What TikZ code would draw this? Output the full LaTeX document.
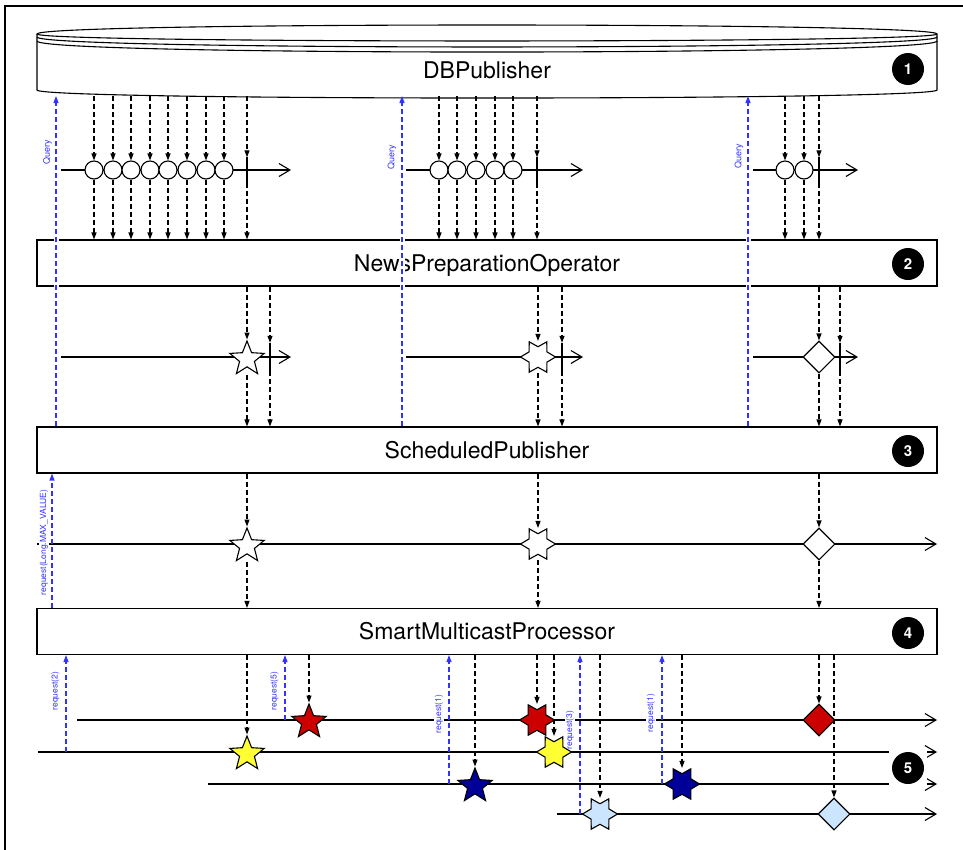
\documentclass[tikz,border=0pt]{standalone}
\usepackage{fontspec}
\setmainfont{TeX Gyre Heros}
\usepackage{tikz}
\usetikzlibrary{arrows.meta}
\usetikzlibrary{shapes.geometric}
\usetikzlibrary{positioning}

\definecolor{querycol}{RGB}{51,51,255}
\definecolor{redev}{RGB}{204,0,0}
\definecolor{yellowev}{RGB}{255,255,51}
\definecolor{navyev}{RGB}{0,0,153}
\definecolor{skyev}{RGB}{204,229,255}

\tikzset{
  stage/.style={draw, line width=1.1pt, fill=white, minimum width=900pt,
    minimum height=46pt, inner sep=0pt, text height=16.5pt, text depth=0pt,
    font=\fontsize{23}{27}\selectfont},
  title/.style={inner sep=0pt, text height=16.5pt, text depth=0pt,
    font=\fontsize{23}{27}\selectfont},
  badge/.style={circle, fill=black, text=white, minimum size=32pt, inner sep=0pt,
    text height=10.8pt, text depth=0pt, font=\fontsize{15}{18}\selectfont\bfseries},
  timeline/.style={line width=1.1pt, -{Straight Barb[length=11pt,width=13pt]}},
  flow/.style={line width=1.1pt, dash pattern=on 5pt off 3pt,
    -{Triangle[length=7pt,width=5pt]}},
  query/.style={querycol, line width=1.2pt, dash pattern=on 5pt off 3pt,
    -{Triangle[length=7pt,width=5pt]}},
  halo/.style={white, line width=5pt, shorten <=-2pt, shorten >=-2pt},
  qlabel/.style={querycol, rotate=90, inner sep=1pt, font=\fontsize{9}{11}\selectfont},
  rlabel/.style={qlabel, fill=white, font=\fontsize{8.5}{10}\selectfont},
  item/.style={circle, draw, line width=1.1pt, fill=white, minimum size=18pt, inner sep=0pt},
  done/.style={inner sep=0pt, minimum width=0pt, minimum height=25pt},
  star5/.style={star, star points=5, star point ratio=2.3, draw, line width=1.1pt,
    fill=white, minimum size=36pt, inner sep=0pt},
  star6/.style={star, star points=6, star point ratio=1.7, shape border rotate=30,
    draw, line width=1.1pt, fill=white, minimum size=35pt, inner sep=0pt},
  gem/.style={diamond, draw, line width=1.1pt, fill=white, minimum size=32pt, inner sep=0pt},
}

% dashed hand-over from #1 through every node of #2 down to #3
\newcommand{\relay}[3]{%
  \foreach \n in {#2} {\draw[flow] (\n |- #1) -- (\n); \draw[flow] (\n) -- (\n |- #3);}}

\begin{document}
\begin{tikzpicture}[x=1pt, y=-1pt]
  \useasboundingbox (0,0) rectangle (963,849);
  \draw[line width=2.5pt] (5,860) -- (5,6) -- (970,6);

  % DBPublisher store
  \draw[line width=1.1pt, fill=white] (37,34) .. controls (37,22) and (937,22) .. (937,34)
    -- (937,90) .. controls (937,100.7) and (37,100.7) .. (37,90) -- cycle;
  \draw[line width=1.1pt] (37,34) .. controls (37,43.3) and (937,43.3) .. (937,34);
  \draw[line width=1.1pt] (37,37) .. controls (37,50.3) and (937,50.3) .. (937,37);
  \draw[line width=1.1pt] (37,41) .. controls (37,55.7) and (937,55.7) .. (937,41);
  \node[title] (db) at (487,70) {DBPublisher};
  \coordinate (dbs) at (487,96);
  \node[badge] (n1) at (908,69) {1};

  % Operators
  \node[stage] (np) at (487,263) {NewsPreparationOperator};
  \node[stage] (sp) at (487,450) {ScheduledPublisher};
  \node[stage] (sm) at (487,631.5) {SmartMulticastProcessor};
  \node[badge] (n2) at (908,264) {2};
  \node[badge] (n3) at (908,451) {3};
  \node[badge] (n4) at (908,633) {4};

  % Queries
  \coordinate (qa) at (56,170);
  \coordinate (qb) at (402,170);
  \coordinate (qc) at (748,170);
  \draw[halo] (qa |- np.north) -- (qa |- np.south);
  \draw[halo] (qb |- np.north) -- (qb |- np.south);
  \draw[halo] (qc |- np.north) -- (qc |- np.south);
  \draw[query] (qa |- sp.north) -- (qa |- dbs);
  \draw[query] (qb |- sp.north) -- (qb |- dbs);
  \draw[query] (qc |- sp.north) -- (qc |- dbs);
  \node[qlabel] (lqa) at (47.5,152) {Query};
  \node[qlabel] (lqb) at (392,157) {Query};
  \node[qlabel] (lqc) at (739,156) {Query};

  % Rows fetched from the database
  \coordinate (ta0) at (61,170);  \coordinate (ta1) at (291,170);
  \coordinate (tb0) at (406,170); \coordinate (tb1) at (583,170);
  \coordinate (tc0) at (753,170); \coordinate (tc1) at (858,170);
  \draw[timeline] (ta0) -- (ta1);
  \draw[timeline] (tb0) -- (tb1);
  \draw[timeline] (tc0) -- (tc1);
  \node[item] (a1) at (94,170) {};  \node[item] (a2) at (113,170) {};
  \node[item] (a3) at (131,170) {}; \node[item] (a4) at (150,170) {};
  \node[item] (a5) at (168,170) {}; \node[item] (a6) at (187,170) {};
  \node[item] (a7) at (206,170) {}; \node[item] (a8) at (224,170) {};
  \node[done] (ak) at (247,170) {};
  \node[item] (b1) at (439,170) {}; \node[item] (b2) at (457,170) {};
  \node[item] (b3) at (476,170) {}; \node[item] (b4) at (495,170) {};
  \node[item] (b5) at (513,170) {};
  \node[done] (bk) at (537,170) {};
  \node[item] (c1) at (785,170) {}; \node[item] (c2) at (804,170) {};
  \node[done] (ck) at (819,170) {};
  \draw[line width=1.1pt] (ak.north) -- (ak.south);
  \draw[line width=1.1pt] (bk.north) -- (bk.south);
  \draw[line width=1.1pt] (ck.north) -- (ck.south);

  % Connect the nodes
  \relay{dbs}{a1,a2,a3,a4,a5,a6,a7,a8,ak}{np.north} ; %
  \relay{dbs}{b1,b2,b3,b4,b5,bk}{np.north} ; %
  \relay{dbs}{c1,c2,ck}{np.north} ; %

  % Prepared news
  \coordinate (pa0) at (61,357);  \coordinate (pa1) at (291,357);
  \coordinate (pb0) at (406,357); \coordinate (pb1) at (583,357);
  \coordinate (pc0) at (753,357); \coordinate (pc1) at (858,357);
  \draw[timeline] (pa0) -- (pa1);
  \draw[timeline] (pb0) -- (pb1);
  \draw[timeline] (pc0) -- (pc1);
  \node[star5] (pa) at (247,359) {};
  \node[done, minimum height=28pt] (pak) at (270,357) {};
  \node[star6] (pb) at (538,357) {};
  \node[done, minimum height=28pt] (pbk) at (562,357) {};
  \node[gem] (pc) at (819,357) {};
  \node[done, minimum height=28pt] (pck) at (840,357) {};
  \draw[line width=1.1pt] (pak.north) -- (pak.south);
  \draw[line width=1.1pt] (pbk.north) -- (pbk.south);
  \draw[line width=1.1pt] (pck.north) -- (pck.south);
  \draw[flow] (pa |- np.south) -- (pa);
  \draw[flow] (pa.outer point 3 -| pa.center) -- (pa |- sp.north);
  \draw[flow] (pb |- np.south) -- (pb.outer point 1 -| pb.center);
  \draw[flow] (pb.outer point 3 -| pb.center) -- (pb |- sp.north);
  \draw[flow] (pc |- np.south) -- (pc);
  \draw[flow] (pc) -- (pc |- sp.north);
  \relay{np.south}{pak,pbk,pck}{sp.north} ; %

  % Scheduled news
  \coordinate (sa0) at (37,544); \coordinate (sa1) at (937,544);
  \draw[timeline] (sa0) -- (sa1);
  \node[star5] (sa) at (247,546) {};
  \node[star6] (sb) at (538,544) {};
  \node[gem] (sc) at (819,544) {};
  \draw[flow] (sa |- sp.south) -- (sa);
  \draw[flow] (sa.outer point 3 -| sa.center) -- (sa |- sm.north);
  \draw[flow] (sb |- sp.south) -- (sb.outer point 1 -| sb.center);
  \draw[flow] (sb.outer point 3 -| sb.center) -- (sb |- sm.north);
  \draw[flow] (sc |- sp.south) -- (sc);
  \draw[flow] (sc) -- (sc |- sm.north);
  \coordinate (qm) at (52,544);
  \draw[query] (qm |- sm.north) -- (qm |- sp.south);
  \node[rlabel] (lqm) at (44,542.5) {request(Long.MAX\_VALUE)};

  % Subscribers
  \coordinate (u1a) at (77,720);  \coordinate (u1b) at (937,720);
  \coordinate (u2a) at (38,752);  \coordinate (u2b) at (937,752);
  \coordinate (u3a) at (208,784); \coordinate (u3b) at (937,784);
  \coordinate (u4a) at (557,814); \coordinate (u4b) at (937,814);
  \draw[timeline] (u1a) -- (u1b);
  \draw[timeline] (u2a) -- (u2b);
  \draw[timeline] (u3a) -- (u3b);
  \draw[timeline] (u4a) -- (u4b);
  \coordinate (r2) at (66,752);
  \coordinate (r5) at (285,720);
  \coordinate (r1) at (449,784);
  \coordinate (r3) at (580,814);
  \coordinate (r1b) at (662,784);
  \draw[query] (r2) -- (r2 |- sm.south);
  \draw[query] (r5) -- (r5 |- sm.south);
  \draw[query] (r1) -- (r1 |- sm.south);
  \draw[query] (r3) -- (r3 |- sm.south);
  \draw[query] (r1b) -- (r1b |- sm.south);
  \node[rlabel] (lr2) at (55.5,691) {request(2)};
  \node[rlabel] (lr5) at (274.5,691) {request(5)};
  \node[rlabel] (lr1) at (439,714) {request(1)};
  \node[rlabel] (lr3) at (570,730) {request(3)};
  \node[rlabel] (lr1b) at (651,713) {request(1)};

  \node[star5, fill=redev] (ua) at (309,722) {};
  \node[star5, fill=yellowev] (va) at (247,754) {};
  \node[star5, fill=navyev] (wa) at (475,786) {};
  \node[star6, fill=redev] (ub) at (537,720) {};
  \node[star6, fill=yellowev] (vb) at (554,752) {};
  \node[star6, fill=navyev] (wb) at (682,784) {};
  \node[star6, fill=skyev] (xb) at (600,814) {};
  \node[gem, fill=redev] (uc) at (819,720) {};
  \node[gem, fill=skyev] (xc) at (834,814) {};
  \draw[flow] (ua |- sm.south) -- (ua);
  \draw[flow] (va |- sm.south) -- (va);
  \draw[flow] (wa |- sm.south) -- (wa);
  \draw[flow] (ub |- sm.south) -- (ub.outer point 1 -| ub.center);
  \draw[flow] (vb |- sm.south) -- (vb.outer point 1 -| vb.center);
  \draw[flow] (wb |- sm.south) -- (wb.outer point 1 -| wb.center);
  \draw[flow] (xb |- sm.south) -- (xb.outer point 1 -| xb.center);
  \draw[flow] (uc |- sm.south) -- (uc);
  \draw[flow] (xc |- sm.south) -- (xc);

  \fill[white] (889,748) rectangle (927,788);
  \node[badge] (n5) at (908,768) {5};
\end{tikzpicture}
\end{document}
